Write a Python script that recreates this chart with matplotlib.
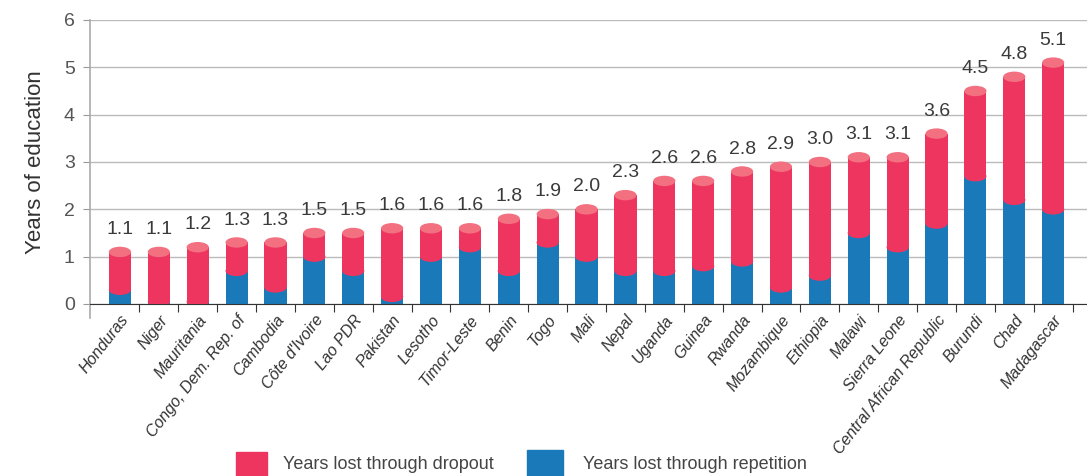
import numpy as np
import matplotlib
matplotlib.use("Agg")
import matplotlib.pyplot as plt
from matplotlib.patches import Ellipse, Rectangle

plt.rcParams['font.family'] = ['Liberation Sans Narrow', 'Liberation Sans', 'DejaVu Sans']

countries = ['Honduras', 'Niger', 'Mauritania', 'Congo, Dem. Rep. of', 'Cambodia',
             "Côte d'Ivoire", 'Lao PDR', 'Pakistan', 'Lesotho', 'Timor-Leste',
             'Benin', 'Togo', 'Mali', 'Nepal', 'Uganda', 'Guinea', 'Rwanda',
             'Mozambique', 'Ethiopia', 'Malawi', 'Sierra Leone',
             'Central African Republic', 'Burundi', 'Chad', 'Madagascar']
repetition = [0.3, 0.05, 0.05, 0.7, 0.35, 1.0, 0.7, 0.15, 1.0, 1.2, 0.7, 1.3, 1.0,
              0.7, 0.7, 0.8, 0.9, 0.35, 0.6, 1.5, 1.2, 1.7, 2.7, 2.2, 2.0]
dropout = [0.8, 1.05, 1.15, 0.6, 0.95, 0.5, 0.8, 1.45, 0.6, 0.4, 1.1, 0.6, 1.0,
           1.6, 1.9, 1.8, 1.9, 2.55, 2.4, 1.6, 1.9, 1.9, 1.8, 2.6, 3.1]

RED = '#EE3560'
TOP = '#F27080'
BLUE = '#1A7AB9'

fig = plt.figure(figsize=(10.87, 4.76), dpi=100)
ax = fig.add_axes([90 / 1087, 1 - 304 / 476, 997 / 1087, 284 / 476])

x = np.arange(len(countries))
rep = np.array(repetition)
drop = np.array(dropout)
total = rep + drop
w = 0.57
eh = 0.22

ax.bar(x, rep, width=w, color=BLUE, zorder=2)
ax.bar(x, drop, bottom=rep, width=w, color=RED, zorder=2)
for xi, r, t in zip(x, rep, total):
    # curved bottom of the red part
    ax.add_patch(Ellipse((xi, r), w, eh, facecolor=RED, edgecolor='none', zorder=3))
    ax.add_patch(Ellipse((xi, t), w, eh, facecolor=TOP, edgecolor='none', zorder=4))
    ax.annotate(f'{t:.1f}', (xi, t), xytext=(0, 10), textcoords='offset points',
                ha='center', va='bottom', fontsize=14, color='#3a3a3a')

ax.set_xlim(-0.77, 24.87)
ax.set_ylim(0, 6)
ax.set_yticks(range(7))
ax.tick_params(axis='y', length=5, color='#999999', labelsize=14, labelcolor='#555555', pad=6)
ax.yaxis.grid(True, color='#BBBBBB', linewidth=1, zorder=0)
ax.set_axisbelow(True)

ax.set_xticks(x + 0.5)
ax.set_xticklabels([])
ax.tick_params(axis='x', length=6, color='#333333')
ax.set_xticks(x, minor=True)
ax.set_xticklabels(countries, minor=True, rotation=52, ha='right', va='top',
                   rotation_mode='anchor', fontsize=11.5, style='italic', color='#333333')
ax.tick_params(axis='x', which='minor', length=0, pad=6)

for s in ['top', 'right']:
    ax.spines[s].set_visible(False)
ax.spines['left'].set_color('#AAAAAA')
ax.spines['left'].set_bounds(-0.3, 6)
ax.spines['bottom'].set_color('#333333')
ax.spines['left'].set_linewidth(1.2)

ax.set_ylabel('Years of education', fontsize=16, color='#333333', labelpad=13)

# legend
fig.add_artist(Rectangle((236 / 1087, 0), 31 / 1087, 24 / 476,
                         transform=fig.transFigure, color=RED))
fig.text(283 / 1087, 3 / 476, 'Years lost through dropout', fontsize=13,
         color='#444444', va='bottom')
fig.add_artist(Rectangle((527 / 1087, 0), 36 / 1087, 26 / 476,
                         transform=fig.transFigure, color=BLUE))
fig.text(583 / 1087, 3 / 476, 'Years lost through repetition', fontsize=13,
         color='#444444', va='bottom')

fig.savefig('out.png', dpi=100)
